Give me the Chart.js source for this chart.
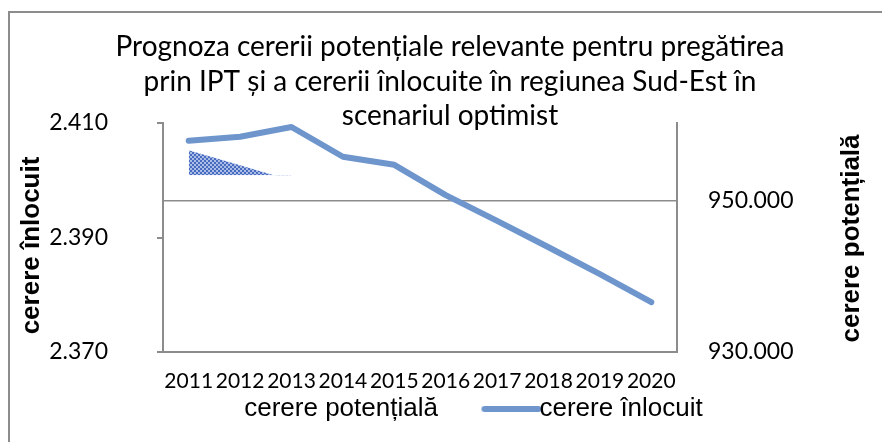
<!DOCTYPE html>
<html>
<head>
<meta charset="utf-8">
<script src="https://cdn.jsdelivr.net/npm/chart.js@4"></script>
<style>
  html, body { margin: 0; padding: 0; background: #fff; }
  #wrap { position: relative; width: 882px; height: 442px; overflow: hidden; }
  #frame { position: absolute; left: 8px; top: 11px; right: -4px; bottom: -4px;
           border-left: 2px solid #8c8c8c; border-top: 2px solid #8c8c8c; }
  canvas { position: absolute; left: 0; top: 0; }
</style>
</head>
<body>
<div id="wrap">
  <div id="frame"></div>
  <canvas id="c" width="882" height="442"></canvas>
</div>
<script>
// Years of the forecast
const years = ['2011', '2012', '2013', '2014', '2015', '2016', '2017', '2018', '2019', '2020'];

// Replacement demand (left axis)
const cerereInlocuit = [2406.9, 2407.6, 2409.3, 2404.1, 2402.7, 2397.4, 2392.9, 2388.3, 2383.6, 2378.7];

// Potential demand (right axis), patterned area above its base level
const cererePotentiala = [956700, 954700, 952700, null, null, null, null, null, null, null];
const potentialaBase = 953400;

// Axis ranges and tick values
const leftRange = [2370, 2410];
const leftTicks = [2370, 2390, 2410];
const rightRange = [930000, 960300];
const rightTicks = [930000, 950000];

const title = [
  'Prognoza cererii potențiale relevante pentru pregătirea',
  'prin IPT și a cererii înlocuite în regiunea Sud-Est în',
  'scenariul optimist'
];

const lineColor = '#6e96cd';
const axisColor = '#8c8c8c';

// thousands grouped with a dot
const fmt = v => String(Math.round(v)).replace(/\B(?=(\d{3})+(?!\d))/g, '.');

// small two-tone blue texture for the potential-demand area
const pc = document.createElement('canvas');
pc.width = 4; pc.height = 4;
const pg = pc.getContext('2d');
pg.fillStyle = '#a9bde6'; pg.fillRect(0, 0, 4, 4);
pg.fillStyle = '#4a6cc0'; pg.fillRect(0, 0, 2, 2); pg.fillRect(2, 2, 2, 2);
const texture = pg.createPattern(pc, 'repeat');

// legend key for the line series: a thick rounded stroke
const keyCanvas = document.createElement('canvas');
keyCanvas.width = 64; keyCanvas.height = 8;
const kg = keyCanvas.getContext('2d');
kg.strokeStyle = lineColor; kg.lineWidth = 6; kg.lineCap = 'round';
kg.beginPath(); kg.moveTo(7, 4); kg.lineTo(61, 4); kg.stroke();

// vertical axis titles, both read bottom-to-top
const sideTitles = {
  id: 'sideTitles',
  afterDraw(chart, args, opts) {
    const ctx = chart.ctx;
    opts.items.forEach(t => {
      const s = chart.scales[t.scaleId];
      if (!s) return;
      const x = t.side === 'left' ? s.left + t.offset : s.right - t.offset;
      ctx.save();
      ctx.translate(x, (s.top + s.bottom) / 2 + t.shift);
      ctx.rotate(-Math.PI / 2);
      ctx.font = opts.font;
      ctx.fillStyle = '#000';
      ctx.textAlign = 'center';
      ctx.textBaseline = 'middle';
      ctx.fillText(t.text, 0, 0);
      ctx.restore();
    });
  }
};

const setTicks = values => scale => { scale.ticks = values.map(v => ({ value: v })); };

new Chart(document.getElementById('c'), {
  type: 'line',
  data: {
    labels: years,
    datasets: [
      {
        label: 'cerere potențială',
        data: cererePotentiala,
        yAxisID: 'yR',
        borderWidth: 0,
        borderColor: 'rgba(0,0,0,0)',
        pointRadius: 0,
        fill: { target: { value: potentialaBase }, above: texture, below: 'rgba(0,0,0,0)' }
      },
      {
        label: 'cerere înlocuit',
        data: cerereInlocuit,
        yAxisID: 'yL',
        borderColor: lineColor,
        borderWidth: 6,
        borderCapStyle: 'round',
        borderJoinStyle: 'round',
        pointRadius: 0,
        tension: 0,
        fill: false
      }
    ]
  },
  options: {
    responsive: false,
    animation: false,
    devicePixelRatio: 1,
    layout: { padding: { left: 18, right: 0, top: 0, bottom: 10 } },
    plugins: {
      title: {
        display: true,
        text: title,
        color: '#000',
        font: { family: 'Lato', size: 28, weight: 'normal', lineHeight: '34.5px' },
        padding: { top: 30, bottom: -10.5 }
      },
      legend: {
        position: 'bottom',
        labels: {
          usePointStyle: true,
          pointStyleWidth: 34,
          padding: 4,
          color: '#000',
          font: { family: 'Liberation Sans', size: 26 },
          generateLabels(chart) {
            const items = Chart.defaults.plugins.legend.labels.generateLabels(chart);
            items.forEach(it => {
              if (it.datasetIndex === 0) {
                it.text = it.text + '       ';
                it.pointStyle = 'line';
                it.strokeStyle = 'rgba(0,0,0,0)';
                it.fillStyle = 'rgba(0,0,0,0)';
                it.lineWidth = 0;
              } else {
                it.pointStyle = keyCanvas;
              }
            });
            return items;
          }
        }
      },
      tooltip: { enabled: false },
      sideTitles: {
        font: 'bold 26px "Liberation Sans"',
        items: [
          { scaleId: 'yL', side: 'left', text: 'cerere înlocuit', offset: 14, shift: 8 },
          { scaleId: 'yR', side: 'right', text: 'cerere potențială', offset: 30, shift: 1 }
        ]
      }
    },
    scales: {
      x: {
        offset: true,
        grid: { drawOnChartArea: false, drawTicks: false },
        border: { color: axisColor, width: 2 },
        ticks: {
          color: '#000',
          font: { family: 'Lato', size: 21 },
          padding: 17,
          autoSkip: false,
          maxRotation: 0,
          minRotation: 0
        },
        afterFit(s) { s.height = 40; }
      },
      yL: {
        position: 'left',
        min: leftRange[0],
        max: leftRange[1],
        afterBuildTicks: setTicks(leftTicks),
        ticks: {
          color: '#000',
          font: { family: 'Lato', size: 23 },
          padding: 49,
          callback: v => fmt(v)
        },
        grid: { drawOnChartArea: false, drawTicks: true, tickLength: 6, color: axisColor, lineWidth: 2 },
        border: { color: axisColor, width: 2 },
        afterFit(s) { s.width = 145; }
      },
      yR: {
        position: 'right',
        min: rightRange[0],
        max: rightRange[1],
        afterBuildTicks: setTicks(rightTicks),
        ticks: {
          color: '#000',
          font: { family: 'Lato', size: 23 },
          padding: 31,
          callback: v => fmt(v)
        },
        grid: { drawOnChartArea: true, drawTicks: false, color: axisColor, lineWidth: 1.5 },
        border: { color: axisColor, width: 2 },
        afterFit(s) { s.width = 205; }
      }
    }
  },
  plugins: [sideTitles]
});
</script>
</body>
</html>
